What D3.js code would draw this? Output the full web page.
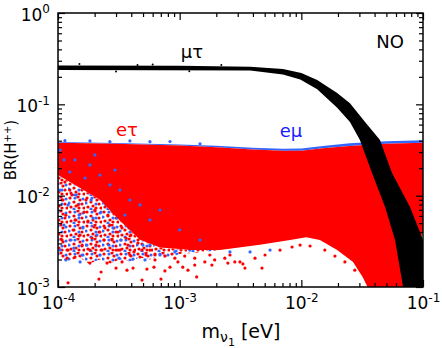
<!DOCTYPE html>
<html>
<head>
<meta charset="utf-8">
<script src="https://cdn.jsdelivr.net/npm/d3@7"></script>
<style>
  body { margin: 0; background: #fff; }
  svg { display: block; font-family: "DejaVu Sans", sans-serif; }
</style>
</head>
<body>
<svg id="chart"></svg>
<script>
// axis domains and tick labels
const xDomain = [1e-4, 1e-1];
const yDomain = [1e-3, 1];
const xMajor = [1e-4, 1e-3, 1e-2, 1e-1];
const yMajor = [1e-3, 1e-2, 1e-1, 1];

// mu-tau band (black): upper/right edge and lower/left edge, [m (eV), BR]
const muTauUpper = [[1e-4, 0.266], [1e-3, 0.264], [3.8e-3, 0.258], [7.06e-3, 0.244], [1e-2, 0.22],
  [1.35e-2, 0.185], [1.97e-2, 0.133], [2.51e-2, 0.103], [3.34e-2, 0.064], [4.43e-2, 0.0407],
  [5.56e-2, 0.0177], [7.82e-2, 0.0075], [1e-1, 0.0033], [1.2e-1, 0.001]];
const muTauLower = [[1e-4, 0.237], [3.8e-3, 0.234], [7.06e-3, 0.212], [9.8e-3, 0.187], [1.35e-2, 0.146],
  [1.97e-2, 0.092], [2.51e-2, 0.064], [3.03e-2, 0.0407], [3.81e-2, 0.0177], [4.88e-2, 0.0075],
  [5.89e-2, 0.00327], [6.86e-2, 0.001], [8e-2, 0.0005]];
const muTauStray = [[1.5e-4, 0.276], [3e-4, 0.229], [6e-4, 0.273], [1.2e-3, 0.23], [2.2e-3, 0.27], [4.5e-4, 0.27]];

// e-tau cloud (red): dense region edges
const eTauUpper = [[1e-4, 0.038], [3e-4, 0.037], [1e-3, 0.0355], [2e-3, 0.034], [4e-3, 0.032], [7e-3, 0.031],
  [1e-2, 0.031], [1.5e-2, 0.033], [2.5e-2, 0.035], [5e-2, 0.037], [1e-1, 0.038]];
const eTauLower = [[1e-4, 0.0168], [1.52e-4, 0.0121], [2.21e-4, 0.009], [3.23e-4, 0.0053], [4.72e-4, 0.0033],
  [6.89e-4, 0.0027], [1e-3, 0.0026], [1.21e-3, 0.00254], [2.14e-3, 0.00254],
  [4.57e-3, 0.0029], [8.08e-3, 0.00327], [1.1e-2, 0.0035], [1.42e-2, 0.00327], [1.97e-2, 0.00254],
  [2.66e-2, 0.00188], [3.2e-2, 0.00128], [3.5e-2, 0.001], [7e-2, 0.001], [1e-1, 0.004]];
// lower edge of the speckled (mixed e-tau / e-mu) zone below the dense cloud
const mixedLower = [[1e-4, 0.0022], [1.2e-4, 0.0019], [1.5e-4, 0.0021], [1.8e-4, 0.0018], [2.2e-4, 0.002],
  [2.7e-4, 0.0018], [3.2e-4, 0.002], [3.9e-4, 0.0019], [4.7e-4, 0.0021], [5.7e-4, 0.002],
  [6.9e-4, 0.0022], [8.3e-4, 0.0021], [1e-3, 0.0023], [1.5e-3, 0.0024], [2.14e-3, 0.00254]];
// e-tau sparse points
const eTauDots = [[1.08e-4, 0.009], [1.16e-4, 0.0061], [1.25e-4, 0.0115], [1.33e-4, 0.00421], [1.46e-4, 0.00791],
  [1.58e-4, 0.00288], [1.67e-4, 0.0131], [1.76e-4, 0.00515], [1.9e-4, 0.00344], [2.01e-4, 0.00697],
  [2.13e-4, 0.0102], [2.3e-4, 0.00254], [2.43e-4, 0.00443], [2.57e-4, 0.00614], [2.78e-4, 0.00327],
  [2.94e-4, 0.00791], [3.11e-4, 0.004], [3.23e-4, 0.00254], [3.49e-4, 0.00542], [3.76e-4, 0.00288],
  [3.98e-4, 0.00371], [4.21e-4, 0.00242], [4.54e-4, 0.00303], [4.9e-4, 0.00254], [5.29e-4, 0.00224],
  [1.08e-4, 0.00327], [1.21e-4, 0.00254], [1.38e-4, 0.00542], [1.52e-4, 0.00371], [1.7e-4, 0.00897],
  [1.83e-4, 0.00254], [2.05e-4, 0.00288], [2.21e-4, 0.004], [2.67e-4, 0.00477], [3.0e-4, 0.00254],
  [3.62e-4, 0.00344], [1.14e-4, 0.0141], [1.3e-4, 0.0102], [1.64e-4, 0.00662], [1.98e-4, 0.00454],
  [2.39e-4, 0.00327], [2.83e-4, 0.00662], [3.36e-4, 0.00443], [4.06e-4, 0.00515], [4.72e-4, 0.00344],
  [5.7e-4, 0.00254], [6.27e-4, 0.00224], [7.56e-4, 0.00218], [9.13e-4, 0.00207], [1.1e-3, 0.00218],
  [1.33e-3, 0.00207], [1.61e-3, 0.00188], [1.94e-3, 0.00198], [2.35e-3, 0.00207], [3.13e-3, 0.00188],
  [4.16e-3, 0.00207], [5.03e-3, 0.00224], [6.68e-3, 0.00254], [8.39e-3, 0.00274], [9.77e-3, 0.00288],
  [1.18e-2, 0.00281], [1.56e-2, 0.00254], [1.89e-2, 0.00218], [2.28e-2, 0.00188], [2.75e-2, 0.00153],
  [1.77e-3, 0.00224], [2.59e-3, 0.00224], [1.33e-3, 0.00174], [1.17e-3, 0.00153], [3.44e-3, 0.00161],
  [4.75e-3, 0.00161], [9.67e-4, 0.00188], [1.21e-4, 0.00111], [2.17e-4, 0.00122], [2.26e-4, 0.00146],
  [3.0e-4, 0.00161], [3.69e-4, 0.00153], [4.14e-4, 0.00161], [4.9e-4, 0.00119], [5.38e-4, 0.00157],
  [6.15e-4, 0.00165], [7.02e-4, 0.00122], [7.56e-4, 0.0015], [8.33e-4, 0.00165], [1.06e-3, 0.00165],
  [1.19e-4, 0.00207], [1.38e-4, 0.00213], [1.83e-4, 0.00183], [2.53e-4, 0.00183], [3.36e-4, 0.00188],
  [4.72e-4, 0.00213], [3.9e-4, 0.00224], [6.27e-4, 0.00198], [1.38e-3, 0.00129], [1.84e-3, 0.00174],
  [2.84e-3, 0.00188], [3.31e-3, 0.00179], [2.49e-3, 0.00183]];

// e-mu cloud (blue): upper edge, sparse points under and over the red
const eMuUpper = [[1e-4, 0.0388], [3e-4, 0.0378], [1e-3, 0.0363], [2e-3, 0.0352], [4e-3, 0.0335], [7e-3, 0.0327],
  [1e-2, 0.0328], [1.5e-2, 0.035], [2.5e-2, 0.0375], [5e-2, 0.0395], [1e-1, 0.0405]];
const eMuDots = [[1.04e-4, 0.0115], [1.12e-4, 0.00477], [1.21e-4, 0.00791], [1.28e-4, 0.00327], [1.41e-4, 0.0102],
  [1.49e-4, 0.00614], [1.6e-4, 0.00443], [1.73e-4, 0.00288], [1.87e-4, 0.00897], [1.94e-4, 0.00569],
  [2.09e-4, 0.00371], [2.26e-4, 0.00662], [2.48e-4, 0.00791], [2.62e-4, 0.00288], [2.83e-4, 0.00443],
  [3.05e-4, 0.00569], [3.29e-4, 0.00327], [3.69e-4, 0.00662], [3.83e-4, 0.00443], [4.37e-4, 0.004],
  [4.99e-4, 0.00288], [1.04e-4, 0.00254], [1.16e-4, 0.00198], [1.35e-4, 0.00267], [1.58e-4, 0.00224],
  [2.21e-4, 0.00224], [3.17e-4, 0.00207], [1.52e-4, 0.00188], [4.14e-4, 0.00202], [5.19e-4, 0.00198],
  [6.89e-4, 0.00224], [5.7e-4, 0.00288], [9.13e-4, 0.00242], [1.21e-3, 0.00254], [2.59e-3, 0.00242],
  [3.79e-3, 0.00242], [5.53e-3, 0.00254]];
const eMuDotsTop = [[1.04e-4, 0.0316], [1.38e-4, 0.0246], [1.83e-4, 0.0217], [2.21e-4, 0.0168], [1.25e-4, 0.0182],
  [2.67e-4, 0.0131], [3.23e-4, 0.0115], [3.9e-4, 0.00897], [1.67e-4, 0.0156], [3.55e-4, 0.00614],
  [1.12e-4, 0.0246], [2.01e-4, 0.0279], [4.72e-4, 0.00791], [5.7e-4, 0.00542], [6.89e-4, 0.00697],
  [2.94e-4, 0.0191], [1e-3, 0.00421], [1.47e-3, 0.00327],
  [1.14e-4, 0.040], [1.83e-4, 0.0398], [2.67e-4, 0.039], [3.9e-4, 0.0398], [5.7e-4, 0.039],
  [8.33e-4, 0.0392], [1.47e-3, 0.037]];

const width = 442, height = 348;
const margin = { top: 13, right: 19, bottom: 61, left: 58 };
const red = "#ff0000", blue = "#3366ff";

const svg = d3.select("#chart").attr("width", width).attr("height", height);

const x = d3.scaleLog().domain(xDomain).range([margin.left, width - margin.right]);
const y = d3.scaleLog().domain(yDomain).range([height - margin.bottom, margin.top]);

const defs = svg.append("defs");
defs.append("clipPath").attr("id", "clip")
  .append("rect")
    .attr("x", margin.left).attr("y", margin.top)
    .attr("width", x.range()[1] - x.range()[0])
    .attr("height", y.range()[0] - y.range()[1]);

// speckle texture for the mixed zone (style only)
const speck = defs.append("pattern").attr("id", "speck")
  .attr("patternUnits", "userSpaceOnUse").attr("width", 17).attr("height", 14);
[[2, 2, red], [10, 1, red], [6, 6, red], [14, 8, red], [3, 11, red], [11, 12, red], [12, 4, red],
 [8, 10, red], [16, 12, red],
 [15, 3, blue], [1, 7, blue], [11, 8, blue], [6, 13, blue], [7, 2, blue]].forEach(([cx, cy, c]) =>
  speck.append("circle").attr("cx", cx).attr("cy", cy).attr("r", 1.6).attr("fill", c));

const plot = svg.append("g").attr("clip-path", "url(#clip)");
const line = d3.line().x(d => x(d[0])).y(d => y(d[1]));
const band = (upper, lower) => line(upper.concat(lower.slice().reverse())) + "Z";

// blue first, red over it, black band on top
plot.append("path").attr("d", band(eMuUpper, eTauUpper)).attr("fill", blue);
plot.append("path").attr("d", band(eTauLower.slice(0, 9), mixedLower)).attr("fill", "url(#speck)");
plot.selectAll(".mu").data(eMuDots).enter().append("circle")
  .attr("cx", d => x(d[0])).attr("cy", d => y(d[1])).attr("r", 1.6).attr("fill", blue);

plot.append("path").attr("d", band(eTauUpper, eTauLower)).attr("fill", red);
plot.selectAll(".tau").data(eTauDots).enter().append("circle")
  .attr("cx", d => x(d[0])).attr("cy", d => y(d[1])).attr("r", 1.6).attr("fill", red);

plot.selectAll(".mutop").data(eMuDotsTop).enter().append("circle")
  .attr("cx", d => x(d[0])).attr("cy", d => y(d[1])).attr("r", 1.6).attr("fill", blue);

plot.append("path").attr("d", band(muTauUpper, muTauLower)).attr("fill", "#000");
plot.selectAll(".stray").data(muTauStray).enter().append("circle")
  .attr("cx", d => x(d[0])).attr("cy", d => y(d[1])).attr("r", 1).attr("fill", "#000");

// ticks (inward, on all four sides)
function minors(dom) {
  const out = [];
  for (let e = Math.round(Math.log10(dom[0])); e < Math.round(Math.log10(dom[1])); e++)
    for (let k = 2; k < 10; k++) out.push(k * Math.pow(10, e));
  return out;
}
const expo = d => String(Math.round(Math.log10(d)));

function styleAxis(g) {
  g.select(".domain").remove();
  g.attr("font-family", null).attr("font-size", null);
  g.selectAll(".tick line").attr("stroke", "#000").attr("stroke-width", 1.2);
}
function powLabels(g) {
  g.selectAll(".tick text").attr("fill", "#000").attr("font-size", 17).text(null)
    .call(t => {
      t.append("tspan").text("10");
      t.append("tspan").attr("dy", "-0.6em").attr("font-size", 12).text(d => expo(d));
    });
}

const y0 = y.range()[0], y1 = y.range()[1], x0 = x.range()[0], x1 = x.range()[1];

svg.append("g").attr("transform", `translate(0,${y0})`)
  .call(d3.axisBottom(x).tickValues(xMajor).tickSize(-7).tickPadding(10))
  .call(styleAxis).call(powLabels);
svg.append("g").attr("transform", `translate(0,${y0})`)
  .call(d3.axisBottom(x).tickValues(minors(xDomain)).tickSize(-4).tickFormat(""))
  .call(styleAxis);
svg.append("g").attr("transform", `translate(0,${y1})`)
  .call(d3.axisTop(x).tickValues(xMajor).tickSize(-7).tickFormat(""))
  .call(styleAxis);
svg.append("g").attr("transform", `translate(0,${y1})`)
  .call(d3.axisTop(x).tickValues(minors(xDomain)).tickSize(-4).tickFormat(""))
  .call(styleAxis);

svg.append("g").attr("transform", `translate(${x0},0)`)
  .call(d3.axisLeft(y).tickValues(yMajor).tickSize(-7).tickPadding(8))
  .call(styleAxis).call(powLabels)
  .call(g => g.selectAll(".tick text").attr("dy", "0.42em"));
svg.append("g").attr("transform", `translate(${x0},0)`)
  .call(d3.axisLeft(y).tickValues(minors(yDomain)).tickSize(-4).tickFormat(""))
  .call(styleAxis);
svg.append("g").attr("transform", `translate(${x1},0)`)
  .call(d3.axisRight(y).tickValues(yMajor).tickSize(-7).tickFormat(""))
  .call(styleAxis);
svg.append("g").attr("transform", `translate(${x1},0)`)
  .call(d3.axisRight(y).tickValues(minors(yDomain)).tickSize(-4).tickFormat(""))
  .call(styleAxis);

// frame
svg.append("rect")
  .attr("x", x0).attr("y", y1).attr("width", x1 - x0).attr("height", y0 - y1)
  .attr("fill", "none").attr("stroke", "#000").attr("stroke-width", 1.5);

// axis titles
const xt = svg.append("text")
  .attr("x", (x0 + x1) / 2 + 0.5).attr("y", 338)
  .attr("text-anchor", "middle").attr("font-size", 19).attr("fill", "#000");
xt.append("tspan").text("m");
xt.append("tspan").attr("font-size", 14).attr("dy", 4).text("ν");
xt.append("tspan").attr("font-size", 11).attr("dy", 4).text("1");
xt.append("tspan").attr("dy", -8).text(" [eV]");

const yt = svg.append("text")
  .attr("transform", `translate(16,${(y0 + y1) / 2}) rotate(-90)`)
  .attr("text-anchor", "middle").attr("font-size", 15).attr("fill", "#000");
yt.append("tspan").text("BR(H");
yt.append("tspan").attr("font-size", 10).attr("dy", -5).text("++");
yt.append("tspan").attr("dy", 5).text(")");

// curve labels
svg.append("text").attr("x", x(1.26e-3)).attr("y", y(0.321))
  .attr("text-anchor", "middle").attr("font-size", 18).attr("fill", "#000").text("μτ");
svg.append("text").attr("x", x(3.69e-4)).attr("y", y(0.045))
  .attr("text-anchor", "middle").attr("font-size", 18).attr("fill", red).text("eτ");
svg.append("text").attr("x", x(8.22e-3)).attr("y", y(0.0439))
  .attr("text-anchor", "middle").attr("font-size", 18).attr("fill", "#1a1aff").text("eμ");
svg.append("text").attr("x", x1 - 33).attr("y", y1 + 35)
  .attr("text-anchor", "middle").attr("font-size", 18).attr("fill", "#000").text("NO");
</script>
</body>
</html>
